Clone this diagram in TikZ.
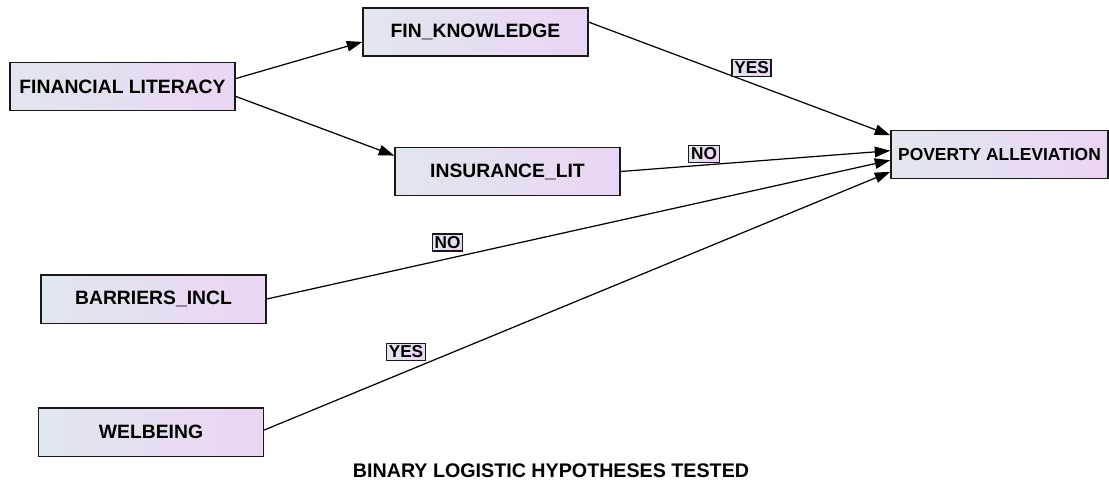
\documentclass[tikz,border=0pt]{standalone}
\usepackage{fontspec}
\setmainfont{Liberation Sans}
\usetikzlibrary{arrows.meta}
\definecolor{boxleft}{RGB}{225,231,236}
\definecolor{boxright}{RGB}{235,213,244}

\begin{document}
\begin{tikzpicture}[x=0.02cm, y=-0.02cm,
    box/.style={draw=black!90, line width=0.85pt, left color=boxleft, right color=boxright, minimum width=4.5cm, minimum height=0.97cm, inner sep=0pt, font=\fontsize{11}{12}\selectfont\bfseries},
    tag/.style={draw=black!90, line width=0.75pt, left color=boxleft, right color=boxright, inner xsep=1.3pt, inner ysep=1.4pt, font=\fontsize{9.8}{10}\selectfont\bfseries},
    arrow/.style={line width=0.7pt, -{Triangle[length=0.31cm, width=0.21cm]}}]
    \useasboundingbox (0,0) rectangle (1109,480);

    \node[box](fin_lit) at (122.5, 86.5) {FINANCIAL LITERACY};
    \node[box](fin_know) at (475.5, 32) {FIN\_KNOWLEDGE};
    \node[box](ins_lit) at (507.5, 171.5) {INSURANCE\_LIT};
    \node[box](barriers) at (153.5, 299) {BARRIERS\_INCL};
    \node[box](welbeing) at (151, 432) {WELBEING};
    \node[box, minimum width=4.34cm, font=\fontsize{9.9}{11}\selectfont\bfseries](poverty) at (999.5, 154.5) {POVERTY ALLEVIATION};

    \draw[arrow] (fin_lit.4.8) -- (fin_know.185);
    \draw[arrow] (fin_lit.355.7) -- (ins_lit.172.7);
    \draw[arrow] (fin_know.5.6) -- (poverty.170.9);
    \draw[arrow] (ins_lit.0) -- (poverty.178.7);
    \draw[arrow] (barriers.0) -- (poverty.183.9);
    \draw[arrow] (welbeing.1) -- (poverty.189.6);

    \node[tag](yes_know) at (751.5, 68) {YES};
    \node[tag](no_ins) at (704, 154) {NO};
    \node[tag](no_barriers) at (447.5, 242.5) {NO};
    \node[tag](yes_welbeing) at (406, 352) {YES};

    \node[font=\fontsize{11.2}{12}\selectfont\bfseries](caption) at (551, 471) {BINARY LOGISTIC HYPOTHESES TESTED};
\end{tikzpicture}
\end{document}
